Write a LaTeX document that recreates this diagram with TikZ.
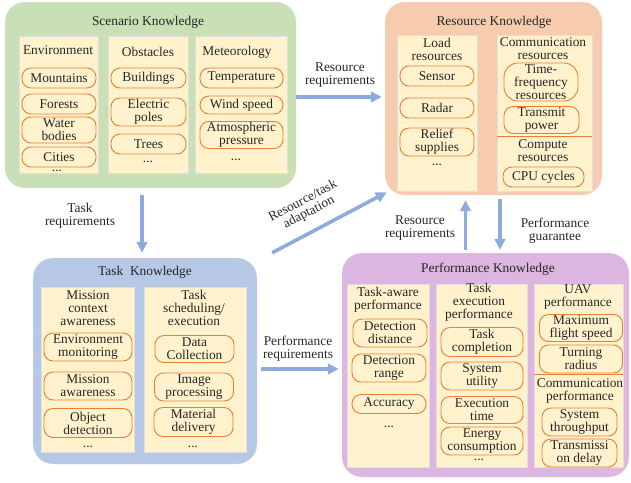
\documentclass[tikz,border=0pt]{standalone}
\usepackage{fontspec}
\setmainfont{Liberation Serif}
\usetikzlibrary{arrows.meta}

\definecolor{scenfill}{HTML}{C9E0B6}
\definecolor{resfill}{HTML}{F6CBAE}
\definecolor{taskfill}{HTML}{B6C8E6}
\definecolor{perffill}{HTML}{DCB5E1}
\definecolor{colfill}{HTML}{FFF2CC}
\definecolor{pillline}{HTML}{ED7D31}
\definecolor{flowblue}{HTML}{8FAADC}

\tikzset{
  bigbox/.style={draw=black!10, rounded corners=20pt, inner sep=0pt},
  colbox/.style={draw=black!12, line width=0.5pt, fill=colfill, inner sep=0pt},
  pill/.style={draw=pillline, line width=0.9pt, rounded corners=9pt,
    minimum width=#1, minimum height=20, inner sep=1pt, align=center},
  head/.style={align=center, inner sep=0pt},
  flow/.style={draw=flowblue, line width=3.6pt,
    -{Triangle[length=11pt,width=10.5pt]}},
  flowlabel/.style={align=center, inner sep=0pt}
}

\begin{document}
\begin{tikzpicture}[x=1pt, y=-1pt, font=\fontsize{13.4}{12.9}\selectfont, text=black!85]
    \useasboundingbox (0,0) rectangle (631,482);

    % Scenario knowledge
    \node[bigbox, fill=scenfill, minimum width=291, minimum height=186] (scen) at (150.5,95) {};
    \node[head] (scentitle) at (148,22) {Scenario Knowledge};
    \node[colbox, minimum width=79, minimum height=137] (envcol) at (58.5,104.5) {};
    \node[colbox, minimum width=80, minimum height=137] (obscol) at (148,104.5) {};
    \node[colbox, minimum width=92, minimum height=137] (metcol) at (241,104.5) {};
    \node[head] (envhead) at (58,50) {Environment};
    \node[head] (obshead) at (148,52) {Obstacles};
    \node[head] (methead) at (237,52) {Meteorology};
    \node[pill=74] (mount) at (59,78) {Mountains};
    \node[pill=74] (forest) at (59,104) {Forests};
    \node[pill=74, minimum height=26] (water) at (59,130) {Water\\bodies};
    \node[pill=74] (city) at (59,157) {Cities};
    \node[head] (envdots) at (57,171) {...};
    \node[pill=75] (build) at (148.5,78) {Buildings};
    \node[pill=75, minimum height=28] (pole) at (148.5,112) {Electric\\poles};
    \node[pill=75] (tree) at (148.5,144) {Trees};
    \node[head] (obsdots) at (148,162) {...};
    \node[pill=83] (temp) at (241.5,78) {Temperature};
    \node[pill=83, minimum height=18] (wind) at (241.5,105) {Wind speed};
    \node[pill=83, minimum height=25] (atmo) at (241.5,135) {Atmospheric\\pressure};
    \node[head] (metdots) at (236,160) {...};

    % Resource knowledge
    \node[bigbox, fill=resfill, minimum width=217, minimum height=193] (res) at (493.5,98.5) {};
    \node[head] (restitle) at (494,22) {Resource Knowledge};
    \node[colbox, minimum width=80, minimum height=156] (loadcol) at (437,113) {};
    \node[colbox, minimum width=95, minimum height=156] (comcol) at (544.5,113) {};
    \node[head] (loadhead) at (437,49) {Load\\resources};
    \node[head] (comhead) at (543,49) {Communication\\resources};
    \node[pill=74] (sensor) at (437,76) {Sensor};
    \node[pill=74] (radar) at (437,108) {Radar};
    \node[pill=74, minimum height=28] (relief) at (437,142) {Relief\\supplies};
    \node[head] (loaddots) at (437,165) {...};
    \node[pill=74, minimum height=38, rounded corners=14pt] (timefreq) at (541,82) {Time-\\frequency\\resources};
    \node[pill=75, minimum height=27] (txpow) at (541.5,120) {Transmit\\power};
    \draw[pillline, line width=0.9pt] (comcol.west |- 0,136) -- (comcol.east |- 0,136);
    \node[head] (cpuhead) at (543,151) {Compute\\resources};
    \node[pill=81] (cpu) at (543.5,177) {CPU cycles};

    % Task knowledge
    \node[bigbox, fill=taskfill, minimum width=224, minimum height=206] (task) at (145,361) {};
    \node[head] (tasktitle) at (145,272) {Task\ \ Knowledge};
    \node[colbox, minimum width=93, minimum height=165] (misscol) at (87.5,369.5) {};
    \node[colbox, minimum width=102, minimum height=165] (schedcol) at (195,369.5) {};
    \node[head] (misshead) at (88,308) {Mission\\context\\awareness};
    \node[head] (schedhead) at (194,308) {Task\\scheduling/\\execution};
    \node[pill=88, minimum height=28] (envmon) at (88,347) {Environment\\monitoring};
    \node[pill=88, minimum height=28] (missaw) at (88,386) {Mission\\awareness};
    \node[pill=88, minimum height=29] (objdet) at (88,423) {Object\\detection};
    \node[head] (missdots) at (88,447) {...};
    \node[pill=79, minimum height=27] (datacol) at (194.5,349) {Data\\Collection};
    \node[pill=79, minimum height=28] (imgproc) at (194,387) {Image\\processing};
    \node[pill=79, minimum height=29] (matdel) at (193.5,422) {Material\\delivery};
    \node[head] (scheddots) at (193,447) {...};

    % Performance knowledge
    \node[bigbox, fill=perffill, minimum width=287, minimum height=224] (perf) at (485.5,365) {};
    \node[head] (perftitle) at (488,269) {Performance Knowledge};
    \node[colbox, minimum width=82, minimum height=183] (awarecol) at (388,375.5) {};
    \node[colbox, minimum width=91, minimum height=183] (execcol) at (481.5,375.5) {};
    \node[colbox, minimum width=89, minimum height=183] (uavcol) at (578.5,375.5) {};
    \node[head] (awarehead) at (388,300) {Task-aware\\performance};
    \node[head] (exechead) at (479,302) {Task\\execution\\performance};
    \node[head] (uavhead) at (578,297) {UAV\\performance};
    \node[pill=74, minimum height=28] (detdist) at (390,333) {Detection\\distance};
    \node[pill=74, minimum height=28] (detrange) at (389,368) {Detection\\range};
    \node[pill=74, minimum height=19] (acc) at (389,404) {Accuracy};
    \node[head] (awaredots) at (389,427) {...};
    \node[pill=82, minimum height=29] (taskcomp) at (482,342) {Task\\completion};
    \node[pill=82, minimum height=28] (sysutil) at (482,376) {System\\utility};
    \node[pill=82, minimum height=27] (exectime) at (482,410) {Execution\\time};
    \node[pill=82, minimum height=28] (energy) at (482,441) {Energy\\consumption};
    \node[head] (execdots) at (479,460) {...};
    \node[pill=83, minimum height=27] (maxspeed) at (581,328) {Maximum\\flight speed};
    \node[pill=83, minimum height=28] (turn) at (581,359) {Turning\\radius};
    \draw[pillline, line width=0.9pt] (uavcol.west |- 0,374) -- (uavcol.east |- 0,374);
    \node[head] (comperfhead) at (580,391) {Communication\\performance};
    \node[pill=75, minimum height=28] (thru) at (579.5,422) {System\\throughput};
    \node[pill=75, minimum height=28] (delay) at (579.5,453) {Transmissi\\on delay};

    % Arrows between knowledge blocks
    \draw[flow, shorten >=3pt] ([yshift=-2pt]scen.east) -- ([yshift=-2pt]scen.east -| res.west);
    \node[flowlabel] (resreq1) at (340,75) {Resource\\requirements};
    \draw[flow, shorten <=7pt, shorten >=5pt] ([xshift=-3pt]task.north |- scen.south) -- ([xshift=-3pt]task.north);
    \node[flowlabel] (taskreq) at (80,216) {Task\\requirements};
    \draw[flow] ([shift={(15,-5)}]task.north east) -- ([shift={(2,-3)}]res.south west);
    \node[flowlabel, rotate=28] (adapt) at (306,207) {Resource/task\\adaptation};
    \draw[flow, shorten <=4pt, shorten >=3pt] ([yshift=-8pt]task.east) -- ([yshift=-8pt]task.east -| perf.west);
    \node[flowlabel] (perfreq) at (298,349) {Performance\\requirements};
    \draw[flow, shorten <=3pt, shorten >=5pt] ([xshift=-20pt]perf.north) -- ([xshift=-20pt]perf.north |- res.south);
    \node[flowlabel] (resreq2) at (420,228) {Resource\\requirements};
    \draw[flow, shorten <=4pt, shorten >=3pt] ([xshift=6.5pt]res.south) -- ([xshift=6.5pt]res.south |- perf.north);
    \node[flowlabel] (guar) at (555,231) {Performance\\guarantee};
\end{tikzpicture}
\end{document}
